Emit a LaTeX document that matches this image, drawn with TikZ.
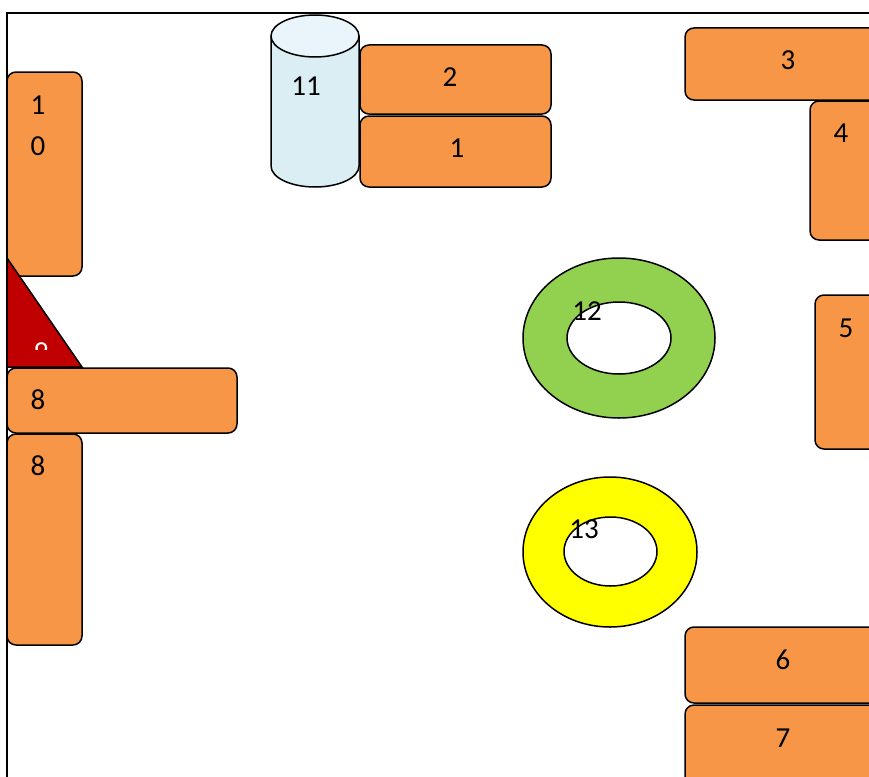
\documentclass[tikz,border=0pt]{standalone}
\usepackage{fontspec}
\setmainfont{Carlito}
\definecolor{orgfill}{HTML}{F79646}
\definecolor{cylbody}{HTML}{DAEEF3}
\definecolor{cyltop}{HTML}{E9F5FA}
\definecolor{ringgreen}{HTML}{92D050}
\definecolor{ringyellow}{HTML}{FFFF00}
\definecolor{trired}{HTML}{C00000}
\tikzset{
  box/.style={draw=black, fill=orgfill, rounded corners=9pt, line width=1.5pt, inner sep=0pt, outer sep=0pt},
  lbl/.style={inner sep=0pt, font=\fontsize{29}{34}\selectfont},
  outline/.style={draw=black, line width=1.5pt}
}
\begin{document}
\begin{tikzpicture}[x=1pt,y=-1pt]
\useasboundingbox (0,0) rectangle (869,776);
\clip (0,0) rectangle (869,776);
% frame
\draw[line width=1.5pt] (7,13) rectangle (900,800);
% cylinder 11
\path[fill=cylbody] (271,36) -- (271,166) arc[start angle=180, end angle=0, x radius=44, y radius=21] -- (359,36) arc[start angle=0, end angle=180, x radius=44, y radius=21] -- cycle;
\path[outline] (271,36) -- (271,166) arc[start angle=180, end angle=0, x radius=44, y radius=21] -- (359,36);
\path[outline, fill=cyltop] (315,36) ellipse[x radius=44, y radius=21];
\node[lbl] (t11) at (306,86) {11};
% boxes
\node[box, minimum width=75pt, minimum height=204pt] (b10) at (44.5,174) {};
\node[lbl, align=center, font=\fontsize{29}{41}\selectfont] (t10) at (38,125.5) {1\\0};
\node[box, minimum width=191pt, minimum height=69pt] (b2) at (455.5,79.5) {};
\node[lbl] (t2) at (450,77) {2};
\node[box, minimum width=191pt, minimum height=71pt] (b1) at (455.5,151.5) {};
\node[lbl] (t1) at (457,148) {1};
\node[box, minimum width=206pt, minimum height=72pt] (b3) at (788,64) {};
\node[lbl] (t3) at (788,60) {3};
\node[box, minimum width=70pt, minimum height=139pt] (b4) at (845,170.5) {};
\node[lbl] (t4) at (841,133) {4};
\node[box, minimum width=65pt, minimum height=154pt] (b5) at (847.5,372) {};
\node[lbl] (t5) at (846,328) {5};
% triangle 9
\draw[fill=trired, line width=1.5pt, line join=miter] (7,258) -- (82,367) -- (7,367) -- cycle;
\begin{scope}
\clip (0,0) rectangle (869,349);
\node[lbl, text=white] (t9) at (41,352) {9};
\end{scope}
\node[box, minimum width=230pt, minimum height=65pt] (b8h) at (122,400.5) {};
\node[lbl] (t8h) at (38,400) {8};
\node[box, minimum width=75pt, minimum height=211pt] (b8v) at (44.5,539.5) {};
\node[lbl] (t8v) at (38,466) {8};
\node[box, minimum width=196pt, minimum height=76pt] (b6) at (783,665) {};
\node[lbl] (t6) at (783,660) {6};
\node[box, minimum width=196pt, minimum height=80pt] (b7) at (783,745) {};
\node[lbl] (t7) at (783,738) {7};
% rings
\path[outline, fill=ringgreen, even odd rule] (619,338) ellipse[x radius=96, y radius=80] (619,338) ellipse[x radius=52, y radius=36];
\node[lbl] (t12) at (587,311) {12};
\path[outline, fill=ringyellow, even odd rule] (610,552) ellipse[x radius=87, y radius=75] (610.5,551.5) ellipse[x radius=46.5, y radius=34.5];
\node[lbl] (t13) at (584,529) {13};
\end{tikzpicture}
\end{document}
